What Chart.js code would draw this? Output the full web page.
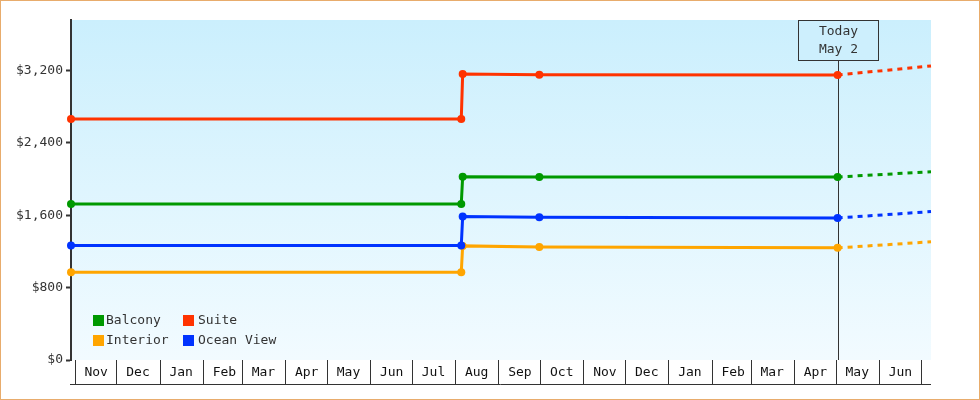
<!DOCTYPE html>
<html>
<head>
<meta charset="utf-8">
<script src="https://cdn.jsdelivr.net/npm/chart.js@4"></script>
<style>
  body { margin: 0; background: #fff; }
  canvas { display: block; }
</style>
</head>
<body>
<canvas id="fareChart" width="980" height="400"></canvas>
<script>
// price history per cabin (last point = forecast end)
const dates = ["2021-10-29", "2022-08-05", "2022-08-06", "2022-09-30", "2023-05-02", "2023-07-08"];
const balcony = [1726, 1726, 2027, 2025, 2024, 2082];
const suite = [2664, 2664, 3163, 3155, 3152, 3252];
const interior = [971, 971, 1262, 1251, 1240, 1307];
const oceanView = [1266, 1266, 1586, 1578, 1571, 1641];

const todayDate = "2023-05-02";
const todayLabel = ["Today", "May 2"];

// month boxes on the x axis
const monthStarts = ["2021-11-01", "2021-12-01", "2022-01-01", "2022-02-01", "2022-03-01", "2022-04-01",
  "2022-05-01", "2022-06-01", "2022-07-01", "2022-08-01", "2022-09-01", "2022-10-01", "2022-11-01",
  "2022-12-01", "2023-01-01", "2023-02-01", "2023-03-01", "2023-04-01", "2023-05-01", "2023-06-01", "2023-07-01"];
const monthLabels = ["Nov", "Dec", "Jan", "Feb", "Mar", "Apr", "May", "Jun", "Jul", "Aug", "Sep", "Oct",
  "Nov", "Dec", "Jan", "Feb", "Mar", "Apr", "May", "Jun", ""];

const yTicks = [0, 800, 1600, 2400, 3200];
const legendOrder = ["Balcony", "Suite", "Interior", "Ocean View"];

function day(s) {
  return Date.parse(s) / 86400000;
}

const today = day(todayDate);
const colors = {
  "Balcony": "#009900",
  "Suite": "#ff3300",
  "Interior": "#ffa500",
  "Ocean View": "#0033ff"
};

function series(name, values) {
  const c = colors[name];
  return {
    label: name,
    data: values.map((v, i) => ({ x: day(dates[i]), y: v })),
    borderColor: c,
    backgroundColor: c,
    borderWidth: 3,
    tension: 0,
    clip: false,
    pointRadius: ctx => (ctx.dataIndex === values.length - 1 ? 0 : 4),
    pointBorderWidth: 0,
    pointBackgroundColor: c,
    segment: {
      borderDash: ctx => (ctx.p0.parsed.x >= today ? [5, 5] : undefined)
    }
  };
}

const framePlugin = {
  id: "frame",
  beforeDraw(chart) {
    const ctx = chart.ctx;
    const a = chart.chartArea;
    ctx.save();
    ctx.fillStyle = "#fff";
    ctx.fillRect(0, 0, chart.width, chart.height);
    const g = ctx.createLinearGradient(0, a.top, 0, a.bottom);
    g.addColorStop(0, "#cbeffd");
    g.addColorStop(1, "#f2fbff");
    ctx.fillStyle = g;
    ctx.fillRect(a.left, a.top, a.right - a.left, a.bottom - a.top);
    ctx.strokeStyle = "#e8ac6c";
    ctx.lineWidth = 1;
    ctx.strokeRect(0.5, 0.5, chart.width - 1, chart.height - 1);
    ctx.restore();
  },
  beforeDatasetsDraw(chart) {
    // today marker
    const ctx = chart.ctx;
    const a = chart.chartArea;
    const x = Math.round(chart.scales.x.getPixelForValue(today)) + 0.5;
    ctx.save();
    ctx.strokeStyle = "#333";
    ctx.lineWidth = 1;
    ctx.beginPath();
    ctx.moveTo(x, a.top + 40);
    ctx.lineTo(x, a.bottom);
    ctx.stroke();
    ctx.fillStyle = "#cdeffd";
    ctx.fillRect(x - 40, a.top + 0.5, 80, 40);
    ctx.strokeRect(x - 40, a.top + 0.5, 80, 40);
    ctx.fillStyle = "#333";
    ctx.font = "13px 'DejaVu Sans Mono'";
    ctx.textAlign = "center";
    ctx.textBaseline = "middle";
    ctx.fillText(todayLabel[0], x, a.top + 12);
    ctx.fillText(todayLabel[1], x, a.top + 30);
    ctx.restore();
  },
  afterDraw(chart) {
    const ctx = chart.ctx;
    const a = chart.chartArea;
    ctx.save();
    // bottom rule under the month boxes
    ctx.strokeStyle = "#333";
    ctx.lineWidth = 1;
    ctx.beginPath();
    ctx.moveTo(a.left - 1, a.bottom + 24.5);
    ctx.lineTo(a.right, a.bottom + 24.5);
    ctx.stroke();
    // legend, two columns inside the plot
    ctx.font = "13px 'DejaVu Sans Mono'";
    ctx.textBaseline = "middle";
    ctx.textAlign = "left";
    legendOrder.forEach((name, i) => {
      const bx = a.left + 22 + (i % 2) * 90;
      const by = a.bottom - 45 + Math.floor(i / 2) * 20;
      ctx.fillStyle = colors[name];
      ctx.fillRect(bx, by, 11, 11);
      ctx.fillStyle = "#333";
      ctx.fillText(name, bx + 13 + (i % 2) * 2, by + 6);
    });
    ctx.restore();
  }
};

Chart.defaults.font.family = "'DejaVu Sans Mono', monospace";
Chart.defaults.font.size = 13;

new Chart("fareChart", {
  type: "line",
  data: {
    datasets: [
      series("Balcony", balcony),
      series("Suite", suite),
      series("Ocean View", oceanView),
      series("Interior", interior)
    ]
  },
  options: {
    responsive: false,
    animation: false,
    devicePixelRatio: 1,
    events: [],
    layout: { padding: { left: 11, right: 49, top: 20, bottom: 15 } },
    plugins: {
      legend: { display: false },
      tooltip: { enabled: false }
    },
    scales: {
      x: {
        type: "linear",
        min: day(dates[0]),
        max: day(dates[dates.length - 1]),
        afterBuildTicks: scale => {
          scale.ticks = monthStarts.map(m => ({ value: day(m) }));
        },
        afterFit: scale => { scale.height = 25; },
        grid: {
          drawOnChartArea: false,
          tickLength: 25,
          tickColor: "#333",
          lineWidth: 1
        },
        border: { display: false },
        ticks: {
          autoSkip: false,
          maxRotation: 0,
          padding: -20,
          labelOffset: 21,
          color: "#111",
          callback: (v, i) => monthLabels[i]
        }
      },
      y: {
        min: 0,
        max: 3760,
        afterBuildTicks: scale => {
          scale.ticks = yTicks.map(v => ({ value: v }));
        },
        afterFit: scale => { scale.width = 60; },
        grid: {
          drawOnChartArea: false,
          tickLength: 5,
          tickWidth: 2,
          tickColor: "#333"
        },
        border: { color: "#333", width: 2 },
        ticks: {
          padding: 3,
          color: "#333",
          callback: v => "$" + v.toLocaleString("en-US")
        }
      }
    }
  },
  plugins: [framePlugin]
});
</script>
</body>
</html>
